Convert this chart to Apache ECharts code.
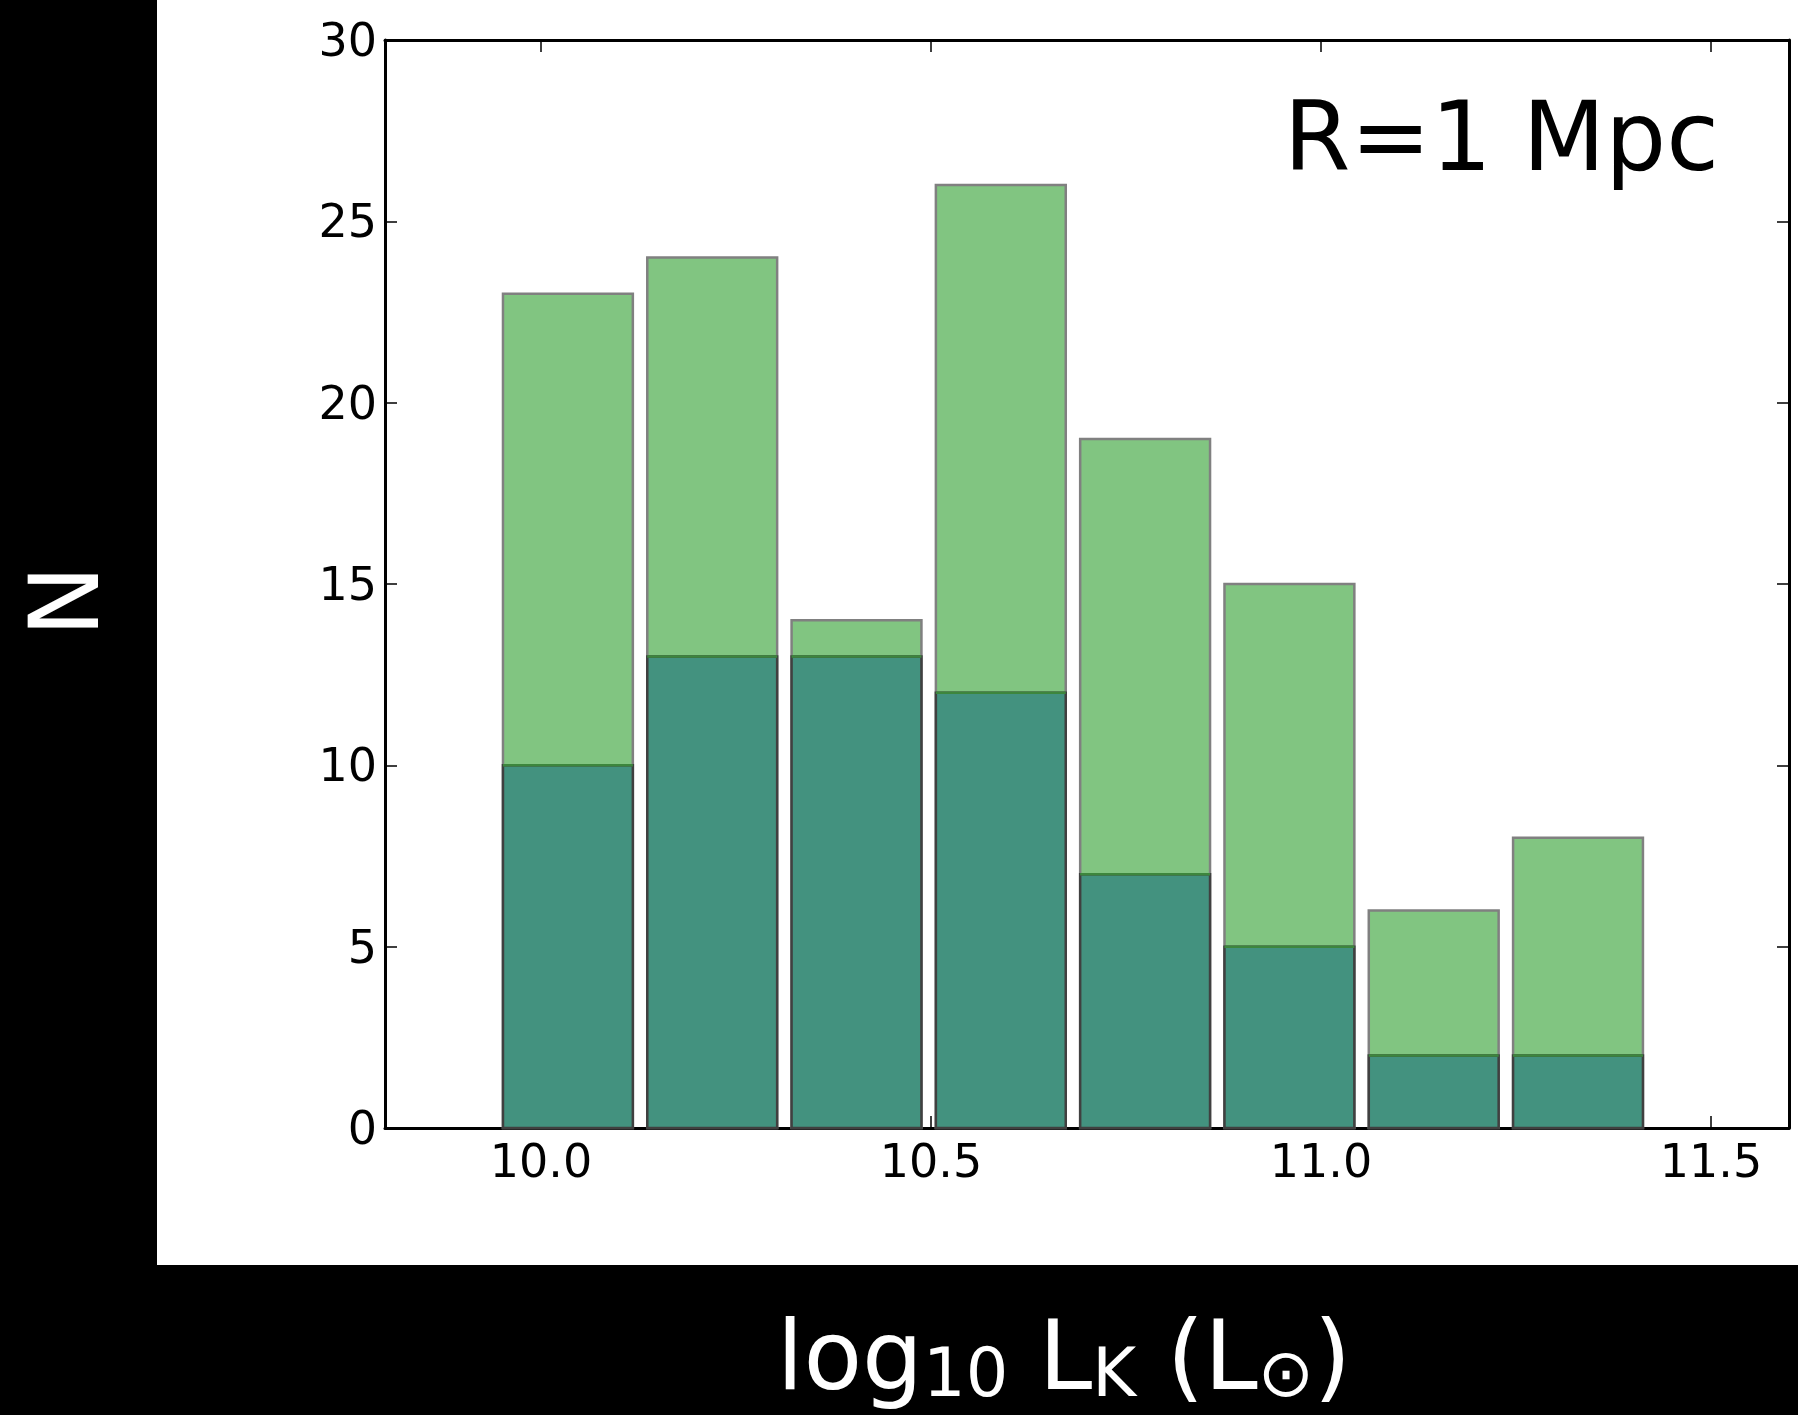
<!DOCTYPE html>
<html>
<head>
<meta charset="utf-8">
<script src="https://cdn.jsdelivr.net/npm/echarts@6/dist/echarts.min.js"></script>
<style>
html,body{margin:0;padding:0;background:#000;}
#chart{width:1798px;height:1415px;}
</style>
</head>
<body>
<div id="chart"></div>
<script>
// ---- data ----
const binEdges = [9.942, 10.127, 10.312, 10.497, 10.682, 10.867, 11.052, 11.237, 11.422];
const allCounts = [23, 24, 14, 26, 19, 15, 6, 8];
const subCounts = [10, 13, 13, 12, 7, 5, 2, 2];
const xTicks = [10.0, 10.5, 11.0, 11.5];
const yTicks = [0, 5, 10, 15, 20, 25, 30];
const annotation = 'R=1 Mpc';
const yTitle = 'N';

const FONT = '"DejaVu Sans", "Liberation Sans", sans-serif';
const rwidth = 0.9;

function binData(counts) {
  return counts.map((c, i) => [binEdges[i], binEdges[i + 1], c]);
}

function makeRender(kind) {
  return function (params, api) {
    const x0 = api.value(0), x1 = api.value(1), c = api.value(2);
    const w = x1 - x0;
    const pad = w * (1 - rwidth) / 2;
    const p0 = api.coord([x0 + pad, c]);
    const p1 = api.coord([x1 - pad, 0]);
    const rx = p0[0], ry = p0[1], rw = p1[0] - p0[0], rh = p1[1] - p0[1];
    if (kind === 'all') {
      return {
        type: 'rect',
        shape: { x: rx, y: ry, width: rw, height: rh },
        style: { fill: '#81c581', stroke: '#808080', lineWidth: 2.5 }
      };
    }
    return {
      type: 'group',
      children: [
        { type: 'rect', shape: { x: rx, y: ry, width: rw, height: rh },
          style: { fill: '#43927f', stroke: '#404040', lineWidth: 2.5 } },
        { type: 'line', shape: { x1: rx, y1: ry, x2: rx + rw, y2: ry },
          style: { stroke: '#3d863d', lineWidth: 2.5 } }
      ]
    };
  };
}

const labelStyle = { fontSize: 46, color: '#000', fontFamily: FONT };
const lineStyle = { color: '#000', width: 3 };
const tickStyle = { color: '#000', width: 1.5 };

const chart = echarts.init(document.getElementById('chart'), null, { renderer: 'canvas' });
chart.setOption({
  animation: false,
  backgroundColor: '#000',
  grid: { left: 385, right: 9, top: 40, bottom: 287, containLabel: false },
  xAxis: [
    { type: 'value', min: 9.8, max: 11.6, position: 'bottom',
      axisLine: { show: true, onZero: false, lineStyle: lineStyle },
      axisTick: { show: true, inside: true, length: 12, customValues: xTicks, lineStyle: tickStyle },
      axisLabel: { show: true, customValues: xTicks, formatter: v => Number(v).toFixed(1), margin: 14, ...labelStyle },
      splitLine: { show: false } },
    { type: 'value', min: 9.8, max: 11.6, position: 'top',
      axisLine: { show: true, onZero: false, lineStyle: lineStyle },
      axisTick: { show: true, inside: true, length: 12, customValues: xTicks, lineStyle: tickStyle },
      axisLabel: { show: false },
      splitLine: { show: false } }
  ],
  yAxis: [
    { type: 'value', min: 0, max: 30, interval: 5, position: 'left',
      axisLine: { show: true, onZero: false, lineStyle: lineStyle },
      axisTick: { show: true, inside: true, length: 12, lineStyle: tickStyle },
      axisLabel: { show: true, margin: 8, verticalAlign: 'top', lineHeight: 8,
                   formatter: v => String(v), ...labelStyle },
      splitLine: { show: false } },
    { type: 'value', min: 0, max: 30, interval: 5, position: 'right',
      axisLine: { show: true, onZero: false, lineStyle: lineStyle },
      axisTick: { show: true, inside: true, length: 12, lineStyle: tickStyle },
      axisLabel: { show: false },
      splitLine: { show: false } }
  ],
  series: [
    { type: 'custom', name: 'all', xAxisIndex: 0, yAxisIndex: 0, z: 2,
      renderItem: makeRender('all'), encode: { x: [0, 1], y: 2 },
      data: binData(allCounts) },
    { type: 'custom', name: 'sub', xAxisIndex: 0, yAxisIndex: 0, z: 3,
      renderItem: makeRender('sub'), encode: { x: [0, 1], y: 2 },
      data: binData(subCounts) }
  ],
  graphic: {
    elements: [
      { type: 'rect', z: -100, silent: true,
        shape: { x: 157, y: 0, width: 1641, height: 1265 },
        style: { fill: '#fff' } },
      { type: 'text', z: 100, x: 1719, y: 145,
        style: { text: annotation, fill: '#000', font: '96px ' + FONT,
                 align: 'right', verticalAlign: 'middle' } },
      { type: 'text', z: 100, x: 73, y: 601, rotation: Math.PI / 2,
        style: { text: yTitle, fill: '#fff', font: '96px ' + FONT,
                 align: 'center', verticalAlign: 'middle' } },
      { type: 'text', z: 100, x: 1064, y: 1364,
        style: {
          text: '{m|log}{s|10}{m| L}{s|K}{m| (L}{s|⊙}{m|)}',
          fill: '#fff', align: 'center', verticalAlign: 'middle',
          rich: {
            m: { fontSize: 96, fontFamily: FONT, fill: '#fff', color: '#fff', lineHeight: 96 },
            s: { fontSize: 67, fontFamily: FONT, fill: '#fff', color: '#fff', lineHeight: 67, verticalAlign: 'bottom' }
          }
        } }
    ]
  }
});
</script>
</body>
</html>
